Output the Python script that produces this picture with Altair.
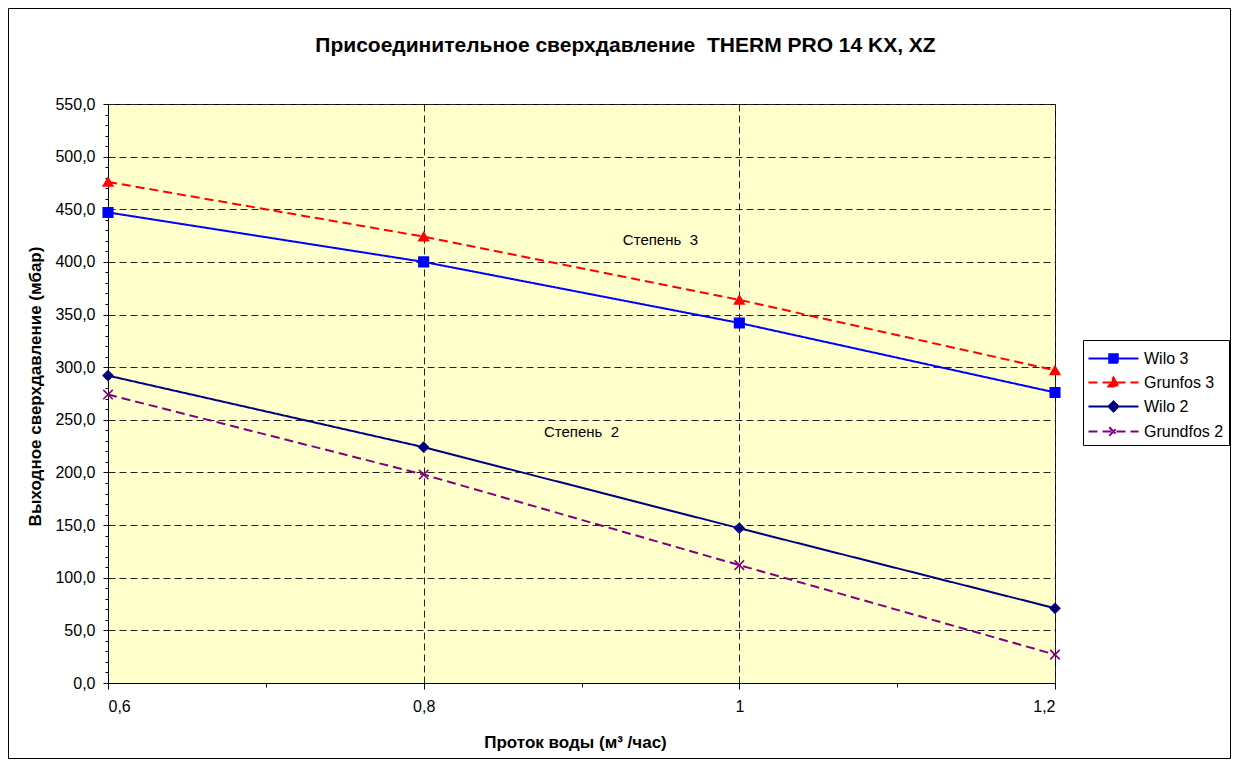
import altair as alt
import pandas as pd

# ---- data ----
flow = [0.6, 0.8, 1.0, 1.2]
series_names = ["Wilo 3", "Grunfos 3", "Wilo 2", "Grundfos 2"]
wilo3 = [447, 400, 342, 276]
grunfos3 = [476, 424, 364, 297]
wilo2 = [292, 224, 147, 71]
grundfos2 = [274, 198, 112, 27]

x_ticks = [0.6, 0.7, 0.8, 0.9, 1.0, 1.1, 1.2]
y_ticks = list(range(0, 551, 10))

annot_text = ["Степень\u00a0 3", "Степень\u00a0 2"]
annot_x = [0.95, 0.90]
annot_y = [421, 238]

rows = []
for name, vals in zip(series_names, [wilo3, grunfos3, wilo2, grundfos2]):
    for f, v in zip(flow, vals):
        rows.append({"flow": f, "pressure": v, "series": name})
df = pd.DataFrame(rows)
ann = pd.DataFrame({"t": annot_text, "x": annot_x, "y": annot_y})

colors = ["#0000FF", "#FF0000", "#000080", "#800080"]
dashes = [[1, 0], [9, 5], [1, 0], [9, 5]]
marker_shapes = ["square", "triangle-up", "diamond", "M-1,-1L1,1M-1,1L1,-1"]
legend_shapes = [
    "M-2,0H2M-0.34,-0.34H0.34V0.34H-0.34Z",
    "M-2,0H2M0,-0.4L0.4,0.32H-0.4Z",
    "M-2,0H2M0,-0.4L0.4,0L0,0.4L-0.4,0Z",
    "M-2,0H2M-0.34,-0.34L0.34,0.34M-0.34,0.34L0.34,-0.34",
]

FONT = "Liberation Sans"
W, H = 947, 579

x_scale = alt.Scale(domain=[0.6, 1.2], nice=False, zero=False)
y_scale = alt.Scale(domain=[0, 550], nice=False)

x_axis = alt.Axis(
    values=x_ticks,
    title="Проток воды (м³ /час)",
    labelExpr="round(datum.value*10) % 2 == 0 ? replace(toString(datum.value), '.', ',') : ''",
    gridOpacity={"condition": {"test": "round(datum.value*10) % 2 == 1", "value": 0}, "value": 1},
    tickSize={"condition": {"test": "round(datum.value*10) % 2 == 1", "value": 4}, "value": 6},
    labelOverlap=False,
    labelPadding=9,
    labelFontSize=16,
    labelColor="black",
    labelFont=FONT,
    titleFont=FONT,
    titleFontSize=17,
    titleFontWeight="bold",
    titleColor="black",
    titleX=467,
    titleY=59,
    titleBaseline="middle",
    domainColor="black",
    tickColor="black",
    gridColor="#222222",
    gridDash=[7, 4],
    gridWidth=1,
)
y_axis = alt.Axis(
    values=y_ticks,
    title="Выходное сверхдавление (мбар)",
    labelExpr="datum.value % 50 == 0 ? replace(format(datum.value, '.1f'), '.', ',') : ''",
    gridOpacity={"condition": {"test": "datum.value % 50 != 0", "value": 0}, "value": 1},
    tickSize={"condition": {"test": "datum.value % 50 != 0", "value": 3}, "value": 5},
    labelOverlap=False,
    labelPadding=8,
    labelFontSize=16,
    labelColor="black",
    labelFont=FONT,
    titleFont=FONT,
    titleFontSize=17,
    titleFontWeight="bold",
    titleColor="black",
    titleX=-73,
    titleY=282,
    titleBaseline="middle",
    domainColor="black",
    tickColor="black",
    gridColor="#222222",
    gridDash=[7, 4],
    gridWidth=1,
)

X = alt.X("flow:Q", scale=x_scale, axis=x_axis)
Y = alt.Y("pressure:Q", scale=y_scale, axis=y_axis)
XA = alt.X("x:Q", scale=x_scale, axis=x_axis)
YA = alt.Y("y:Q", scale=y_scale, axis=y_axis)

sdom = series_names

lines = alt.Chart(df).mark_line(strokeWidth=2, clip=True).encode(
    x=X,
    y=Y,
    color=alt.Color("series:N", scale=alt.Scale(domain=sdom, range=colors), legend=None),
    strokeDash=alt.StrokeDash("series:N", scale=alt.Scale(domain=sdom, range=dashes), legend=None),
    detail="series:N",
)

points = alt.Chart(df).mark_point(filled=True, strokeWidth=1.6, opacity=1).encode(
    x=X,
    y=Y,
    color=alt.Color("series:N", scale=alt.Scale(domain=sdom, range=colors), legend=None),
    stroke=alt.Stroke("series:N", scale=alt.Scale(domain=sdom, range=colors), legend=None),
    shape=alt.Shape("series:N", scale=alt.Scale(domain=sdom, range=marker_shapes), legend=None),
    size=alt.value(90),
)

leg = alt.Legend(
    title=None,
    orient="none",
    legendX=975,
    legendY=236,
    strokeColor="black",
    fillColor="white",
    padding=5,
    symbolSize=625,
    symbolOffset=12,
    symbolStrokeWidth=2,
    labelFont=FONT,
    labelFontSize=16,
    labelColor="black",
    labelOffset=17,
    rowPadding=2,
    symbolOpacity=1,
)

legend_layer = alt.Chart(df).transform_filter("false").mark_point(filled=True, strokeWidth=2).encode(
    x=X,
    y=Y,
    color=alt.Color("series:N", scale=alt.Scale(domain=sdom, range=colors), legend=leg),
    stroke=alt.Stroke("series:N", scale=alt.Scale(domain=sdom, range=colors), legend=leg),
    shape=alt.Shape("series:N", scale=alt.Scale(domain=sdom, range=legend_shapes), legend=leg),
    strokeDash=alt.StrokeDash("series:N", scale=alt.Scale(domain=sdom, range=dashes), legend=leg),
)

texts = alt.Chart(ann).mark_text(font=FONT, fontSize=15, color="black").encode(
    x=XA,
    y=YA,
    text="t:N",
)

frame = alt.Chart(pd.DataFrame({"a": [0]})).mark_rect(
    fill=None, stroke="black", strokeWidth=1, fillOpacity=0
).encode(
    x=alt.value(-99.5), x2=alt.value(1122.5), y=alt.value(-95.5), y2=alt.value(654.5)
)

chart = alt.layer(frame, lines, points, texts, legend_layer).resolve_scale(
    color="independent", stroke="independent", shape="independent", strokeDash="independent"
).properties(
    width=W,
    height=H,
    autosize=alt.AutoSizeParams(type="none"),
    padding={"left": 100, "top": 96, "right": 176, "bottom": 76},
    background="white",
    title=alt.TitleParams(
        "Присоединительное сверхдавление\u00a0 THERM PRO 14 KX, XZ",
        fontSize=21, fontWeight="bold", font=FONT, color="black",
        anchor="middle", dx=44, offset=-69, baseline="bottom",
    ),
).configure_view(
    fill="#FFFFCC", stroke="black", strokeWidth=1
)

chart.save("out.html", embed_options={"renderer": "svg", "actions": False})
